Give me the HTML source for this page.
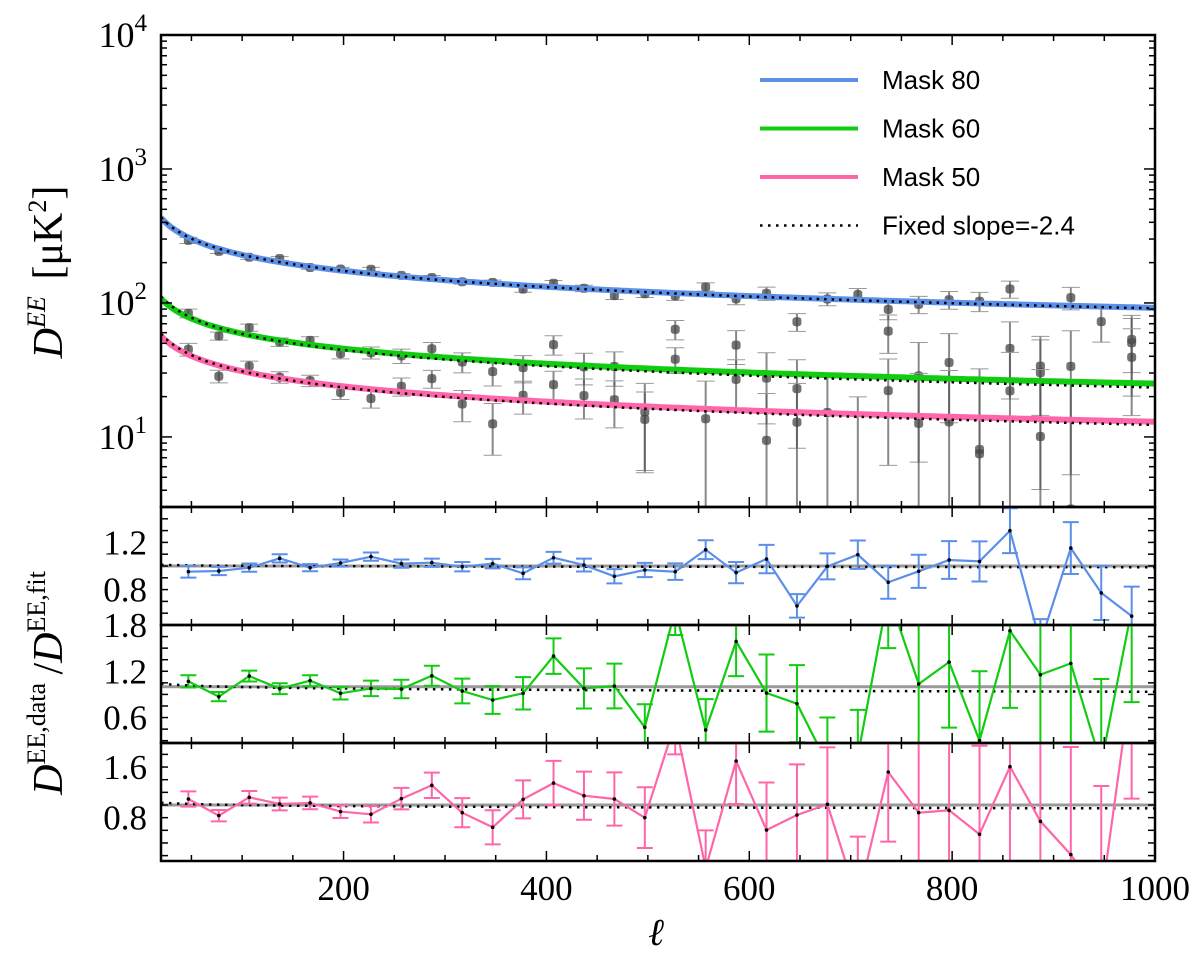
<!DOCTYPE html>
<html><head><meta charset="utf-8"><style>
body{margin:0;background:#fff;overflow:hidden}
svg{display:block}
text{font-family:"Liberation Serif",serif;fill:#000}
</style></head><body>
<svg id="chart" width="1200" height="959" xmlns="http://www.w3.org/2000/svg">
<g id="main"></g>
</svg>
<script>
const ells = [47,77,107,137,167,197,227,257,287,317,347,377,407,437,467,497,527,557,587,617,647,677,707,737,767,797,827,857,887,917,947,977];
const ratio80 = [0.952,0.958,0.986,1.065,0.986,1.025,1.079,1.02,1.028,0.994,1.02,0.938,1.07,1.008,0.913,0.966,0.952,1.138,0.944,1.059,0.662,0.997,1.096,0.862,0.955,1.051,1.039,1.299,0.35,1.152,0.772,0.575];
const err80 = [0.05,0.035,0.035,0.035,0.03,0.03,0.035,0.035,0.035,0.04,0.04,0.05,0.05,0.055,0.06,0.06,0.07,0.08,0.09,0.12,0.1,0.11,0.12,0.14,0.14,0.16,0.17,0.19,0.2,0.22,0.23,0.25];
const ratio60 = [1.069,0.871,1.138,0.974,1.078,0.914,0.978,0.970,1.142,0.944,0.827,0.914,1.397,0.978,1.009,0.473,2.0,0.439,1.587,0.918,0.78,0.0,0.1,2.2,1.035,1.319,0.30,1.725,1.155,1.302,0.0,2.0];
const err60 = [0.08,0.06,0.07,0.07,0.07,0.08,0.1,0.12,0.13,0.16,0.18,0.21,0.23,0.26,0.29,0.3,0.33,0.4,0.45,0.5,0.5,0.6,0.6,0.7,0.8,0.85,0.9,1,1,1.1,1.1,1.2];
const ratio50 = [1.095,0.832,1.121,1.016,1.032,0.895,0.853,1.1,1.311,0.879,0.647,1.089,1.347,1.147,1.095,0.8,2.3,0.0,1.695,0.605,0.842,1.011,-0.5,1.521,0.879,0.916,0.537,1.605,0.742,0.216,-0.5,3.0];
const err50 = [0.12,0.09,0.1,0.1,0.1,0.1,0.13,0.17,0.2,0.23,0.27,0.3,0.35,0.38,0.42,0.48,0.5,0.6,0.68,0.75,0.8,0.9,1,1.1,1.2,1.3,1.4,1.5,1.6,1.7,1.8,1.9];
const fitAmp = [1409,329,175.6];
const fitSlope = [-0.395,-0.373,-0.377];
const fixedRatioStart = [1.01,1.04,1.037];
const fixedRatioEnd = [0.99,0.935,0.947];
const seriesNames = ["Mask 80","Mask 60","Mask 50"];
const colors = ["#5b8fe8","#11cc11","#ff66aa"];
const xTicks = [200,400,600,800,1000];

const NS="http://www.w3.org/2000/svg";
const svg=document.getElementById('chart');
function el(tag,attrs,parent,txt){const e=document.createElementNS(NS,tag);for(const k in attrs)e.setAttribute(k,attrs[k]);if(txt!==undefined)e.textContent=txt;(parent||svg).appendChild(e);return e;}
const X0=161,X1=1155,L0=20,L1=1000;
const xs=l=>X0+(l-L0)/(L1-L0)*(X1-X0);
const MT=35,MB=507,LOGMIN=Math.log10(3),LOGMAX=4;
const ym=v=>MB-(Math.log10(v)-LOGMIN)/(LOGMAX-LOGMIN)*(MB-MT);
const panels=[{t:507,b:625,min:0.5,max:1.5,labels:[1.2,0.8],minor:0.1},{t:625,b:743,min:0.27,max:1.8,labels:[1.8,1.2,0.6],minor:0.15},{t:743,b:861,min:0.115,max:1.98,labels:[1.6,0.8],minor:0.2}];
const ratios=[ratio80,ratio60,ratio50], errs=[err80,err60,err50];
function fit(i,l){return fitAmp[i]*Math.pow(l,fitSlope[i]);}
function fixedR(i,l){const b=Math.log(fixedRatioEnd[i]/fixedRatioStart[i])/Math.log(L1/L0);return fixedRatioStart[i]*Math.pow(l/L0,b);}

const defs=el('defs',{});
const cpM=el('clipPath',{id:'cm'},defs);el('rect',{x:X0,y:MT,width:X1-X0,height:MB-MT},cpM);
panels.forEach((p,i)=>{const c=el('clipPath',{id:'cp'+i},defs);el('rect',{x:X0,y:p.t,width:X1-X0,height:p.b-p.t},c);});

const gm=el('g',{'clip-path':'url(#cm)'});


for(let s=0;s<3;s++){
  ells.forEach((l,k)=>{
    const v=ratios[s][k]*fit(s,l); if(v<=0) return;
    const lo=Math.max((ratios[s][k]-errs[s][k])*fit(s,l),0.5), hi=(ratios[s][k]+errs[s][k])*fit(s,l);
    const x=xs(l);
    const e=el('line',{x1:x,x2:x,y1:ym(lo),y2:ym(hi),stroke:'#555','stroke-width':2,'stroke-opacity':0.7},gm);
    
    
    el('line',{x1:x-9,x2:x+9,y1:ym(hi),y2:ym(hi),stroke:'#999','stroke-width':1},gm);
    if(lo>0.6) el('line',{x1:x-9,x2:x+9,y1:ym(lo),y2:ym(lo),stroke:'#999','stroke-width':1},gm);
    const c=el('rect',{x:x-4.5,y:ym(v)-4.5,width:9,height:9,rx:3,fill:'#444','fill-opacity':0.75},gm);
    
    
  });
}
for(let s=0;s<3;s++){
  let d='',dd='';
  for(let l=L0;l<=L1;l+=5){const f=fit(s,l);d+=(l===L0?'M':'L')+xs(l).toFixed(1)+','+ym(f).toFixed(1);dd+=(l===L0?'M':'L')+xs(l).toFixed(1)+','+ym(f*fixedR(s,l)).toFixed(1);}
  const p=el('path',{d:d,fill:'none',stroke:colors[s],'stroke-width':6},gm);
  
  
  const q=el('path',{d:dd,fill:'none',stroke:'#000','stroke-width':2.5,'stroke-dasharray':'2.5,5'},gm);
  
  
}
el('rect',{x:X0,y:MT,width:X1-X0,height:MB-MT,fill:'none',stroke:'#000','stroke-width':2.5});
for(let e=0;e<=4;e++){
  for(let m=1;m<10;m++){const v=m*Math.pow(10,e);if(v<3||v>10000)continue;const y=ym(v);const len=m===1?11:6;
    el('line',{x1:X0,x2:X0+len,y1:y,y2:y,stroke:'#000','stroke-width':1.5});
    el('line',{x1:X1-len,x2:X1,y1:y,y2:y,stroke:'#000','stroke-width':1.5});
    if(m===1&&e>=1){const t=el('text',{x:X0-14,y:y+12,'font-size':36,'text-anchor':'end'});
      
      
      el('tspan',{},t,'10');el('tspan',{dy:-16,'font-size':25},t,String(e));}
  }
}
function xticks(t,b){for(let l=50;l<=1000;l+=50){const x=xs(l);const len=l%200===0?10:6;el('line',{x1:x,x2:x,y1:b,y2:b-len,stroke:'#000','stroke-width':1.5});el('line',{x1:x,x2:x,y1:t,y2:t+len,stroke:'#000','stroke-width':1.5});}}
xticks(MT,MB);
const lg=el('g',{});


const legItems=[...seriesNames,'Fixed slope=-2.4'];
legItems.forEach((n,i)=>{const y=80+i*48.5;
  const ln=el('line',{x1:760,x2:858,y1:y,y2:y,stroke:i<3?colors[i]:'#000','stroke-width':i<3?4:2.5,'stroke-dasharray':i<3?'none':'2.5,5.5'},lg);
  
  
  const t=el('text',{x:882,y:y+9,'font-size':26,style:'font-family:"Liberation Sans",sans-serif'},lg,n);
  
  
});
panels.forEach((p,i)=>{
  const yr=v=>p.b-(v-p.min)/(p.max-p.min)*(p.b-p.t);
  const g=el('g',{'clip-path':'url(#cp'+i+')'});
  
  
  el('line',{x1:X0,x2:X1,y1:yr(1),y2:yr(1),stroke:'#999','stroke-width':3},g);
  let dd='';for(let l=L0;l<=L1;l+=10)dd+=(l===L0?'M':'L')+xs(l).toFixed(1)+','+yr(fixedR(i,l)).toFixed(1);
  el('path',{d:dd,fill:'none',stroke:'#000','stroke-width':2.5,'stroke-dasharray':'2.5,5.5'},g);
  ells.forEach((l,k)=>{const x=xs(l),v=ratios[i][k],er=errs[i][k];
    const e=el('line',{x1:x,x2:x,y1:yr(v-er),y2:yr(v+er),stroke:colors[i],'stroke-width':2},g);
    
    
    el('line',{x1:x-8,x2:x+8,y1:yr(v-er),y2:yr(v-er),stroke:colors[i],'stroke-width':2},g);
    el('line',{x1:x-8,x2:x+8,y1:yr(v+er),y2:yr(v+er),stroke:colors[i],'stroke-width':2},g);
  });
  const pl=el('polyline',{points:ells.map((l,k)=>xs(l).toFixed(1)+','+yr(ratios[i][k]).toFixed(1)).join(' '),fill:'none',stroke:colors[i],'stroke-width':2.2},g);
  
  
  ells.forEach((l,k)=>{const c=el('circle',{cx:xs(l),cy:yr(ratios[i][k]),r:1.8,fill:'#000'},g);
    
    });
  el('rect',{x:X0,y:p.t,width:X1-X0,height:p.b-p.t,fill:'none',stroke:'#000','stroke-width':2.5});
  for(let v=Math.ceil(p.min/p.minor)*p.minor;v<=p.max+1e-6;v+=p.minor){const y=yr(v);
    el('line',{x1:X0,x2:X0+7,y1:y,y2:y,stroke:'#000','stroke-width':1.5});el('line',{x1:X1-7,x2:X1,y1:y,y2:y,stroke:'#000','stroke-width':1.5});}
  p.labels.forEach(v=>{const t=el('text',{x:X0-14,y:yr(v)+12,'font-size':35,'text-anchor':'end'},svg,v.toFixed(1));
    
    });
  xticks(p.t,p.b);
});
xTicks.forEach(l=>{const t=el('text',{x:xs(l),y:900,'font-size':35,'text-anchor':'middle'},svg,String(l));
  
  });
const xl=el('text',{x:656,y:945,'font-size':38,'font-style':'italic','text-anchor':'middle'},svg,'ℓ');


const yl=el('text',{transform:'translate(62,272) rotate(-90)','font-size':42,'text-anchor':'middle'},svg);


el('tspan',{'font-style':'italic'},yl,'D');el('tspan',{'font-size':26,dy:-17,'font-style':'italic'},yl,'EE');el('tspan',{dy:17},yl,'\u2009\u2009[μK');el('tspan',{'font-size':26,dy:-16},yl,'2');el('tspan',{dy:16},yl,']');
const yl2=el('text',{transform:'translate(62,683) rotate(-90)','font-size':42,'text-anchor':'middle'},svg);


el('tspan',{'font-style':'italic'},yl2,'D');el('tspan',{'font-size':26,dy:-17},yl2,'EE,data');el('tspan',{dy:17},yl2,'\u2009/');el('tspan',{'font-style':'italic'},yl2,'D');el('tspan',{'font-size':26,dy:-17},yl2,'EE,fit');
</script>
</body></html>
